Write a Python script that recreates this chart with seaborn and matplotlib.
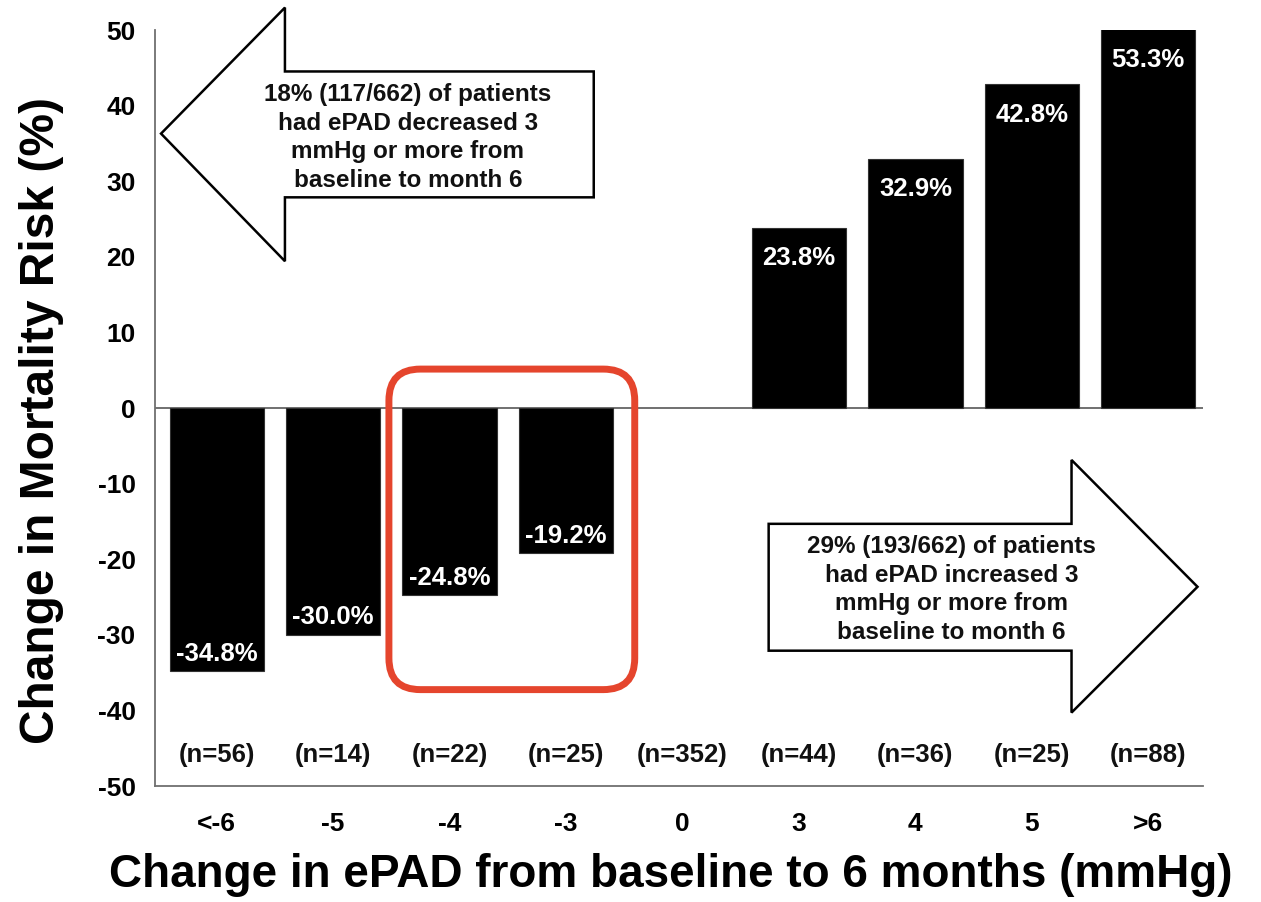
import numpy as np
import pandas as pd
import seaborn as sns
import matplotlib.pyplot as plt
from matplotlib.patches import Polygon, FancyBboxPatch

# --- data ---
categories = ['<-6', '-5', '-4', '-3', '0', '3', '4', '5', '>6']
risk_change = [-34.8, -30.0, -24.8, -19.2, np.nan, 23.8, 32.9, 42.8, 53.3]
risk_labels = ['-34.8%', '-30.0%', '-24.8%', '-19.2%', '', '23.8%', '32.9%', '42.8%', '53.3%']
n_labels = ['(n=56)', '(n=14)', '(n=22)', '(n=25)', '(n=352)', '(n=44)', '(n=36)', '(n=25)', '(n=88)']
y_ticks = [-50, -40, -30, -20, -10, 0, 10, 20, 30, 40, 50]

left_note = "18% (117/662) of patients\nhad ePAD decreased 3\nmmHg or more from\nbaseline to month 6"
right_note = "29% (193/662) of patients\nhad ePAD increased 3\nmmHg or more from\nbaseline to month 6"

df = pd.DataFrame({'cat': categories, 'risk': risk_change})

sns.set_style('white')
plt.rcParams['font.family'] = ['Liberation Sans', 'DejaVu Sans']
plt.rcParams['axes.unicode_minus'] = False
plt.rcParams['text.color'] = 'black'
plt.rcParams['xtick.labelcolor'] = 'black'
plt.rcParams['ytick.labelcolor'] = 'black'

fig = plt.figure(figsize=(12.61, 9.02), dpi=100)
ax = fig.add_axes([0.1229, 0.1286, 0.8311, 0.8381])

sns.barplot(data=df, x='cat', y='risk', order=categories, color='black',
            width=0.81, errorbar=None, saturation=1, ax=ax, zorder=2)
for p in ax.patches:
    p.set_edgecolor('#333333')
    p.set_linewidth(0.8)

ax.set_xlim(-0.53, 8.47)
ax.set_ylim(-50, 50)
ax.set_yticks(y_ticks)
ax.set_xticks(range(len(categories)))
ax.set_xticklabels(categories)
ax.set_xlabel('')
ax.set_ylabel('')

# zero line
ax.axhline(0, color='#707070', lw=1.4, zorder=1)

# spines / ticks
for s in ['top', 'right']:
    ax.spines[s].set_visible(False)
for s in ['left', 'bottom']:
    ax.spines[s].set_color('#707070')
    ax.spines[s].set_linewidth(1.3)
ax.tick_params(axis='y', direction='out', length=9, width=1.2, color='#707070',
               pad=5, labelsize=19, labelcolor='black')
ax.tick_params(axis='x', direction='out', length=4.5, width=1.2, color='#707070',
               pad=14, labelsize=19, labelcolor='black')
for lbl in ax.get_xticklabels() + ax.get_yticklabels():
    lbl.set_fontweight('bold')

# value labels inside bars
top = ax.get_ylim()[1]
for i, (v, txt) in enumerate(zip(risk_change, risk_labels)):
    if np.isnan(v):
        continue
    if v > 0:
        ax.text(i, min(v, top) - 4.9, txt, ha='center', va='baseline',
                color='white', fontsize=18.5, fontweight='bold', zorder=3)
    else:
        ax.text(i, v + 1.4, txt, ha='center', va='baseline',
                color='white', fontsize=18.5, fontweight='bold', zorder=3)

# sample sizes
for i, txt in enumerate(n_labels):
    ax.text(i, -46.8, txt, ha='center', va='baseline', fontsize=18.5,
            fontweight='bold', color='#111111')

# arrows with notes
left_arrow = [(-0.478, 36.3), (0.586, 52.97), (0.586, 44.52), (3.238, 44.52),
              (3.238, 27.87), (0.586, 27.87), (0.586, 19.42)]
right_arrow = [(4.740, -15.32), (7.341, -15.32), (7.341, -6.87), (8.423, -23.65),
               (7.341, -40.29), (7.341, -32.10), (4.740, -32.10)]
for verts in [left_arrow, right_arrow]:
    ax.add_patch(Polygon(verts, closed=True, facecolor='white', edgecolor='black',
                         lw=1.8, zorder=4, clip_on=False))
ax.text(1.642, 35.8, left_note, ha='center', va='center', fontsize=17.5,
        fontweight='bold', linespacing=1.32, color='#111111', zorder=5)
ax.text(6.311, -24.0, right_note, ha='center', va='center', fontsize=17.5,
        fontweight='bold', linespacing=1.32, color='#111111', zorder=5)

# red highlight box around -4 and -3
p0 = ax.transData.transform((0, 0))
p1 = ax.transData.transform((1, 1))
aspect = abs(p1[0] - p0[0]) / abs(p1[1] - p0[1])
ax.add_patch(FancyBboxPatch((1.479, -37.25), 3.590 - 1.479, 5.15 + 37.25,
                            boxstyle='round,pad=0,rounding_size=0.27',
                            mutation_aspect=aspect, facecolor='none',
                            edgecolor='#E5452D', lw=5, zorder=6, clip_on=False))

# axis titles
fig.text(0.532, 15 / 902, 'Change in ePAD from baseline to 6 months (mmHg)',
         ha='center', va='baseline', fontsize=33, fontweight='bold', color='black')
fig.text(42 / 1261, 1 - 420 / 902, 'Change in Mortality Risk (%)', rotation=90,
         ha='center', va='center', fontsize=34.5, fontweight='bold', color='black')

fig.savefig('out.png', dpi=100)
